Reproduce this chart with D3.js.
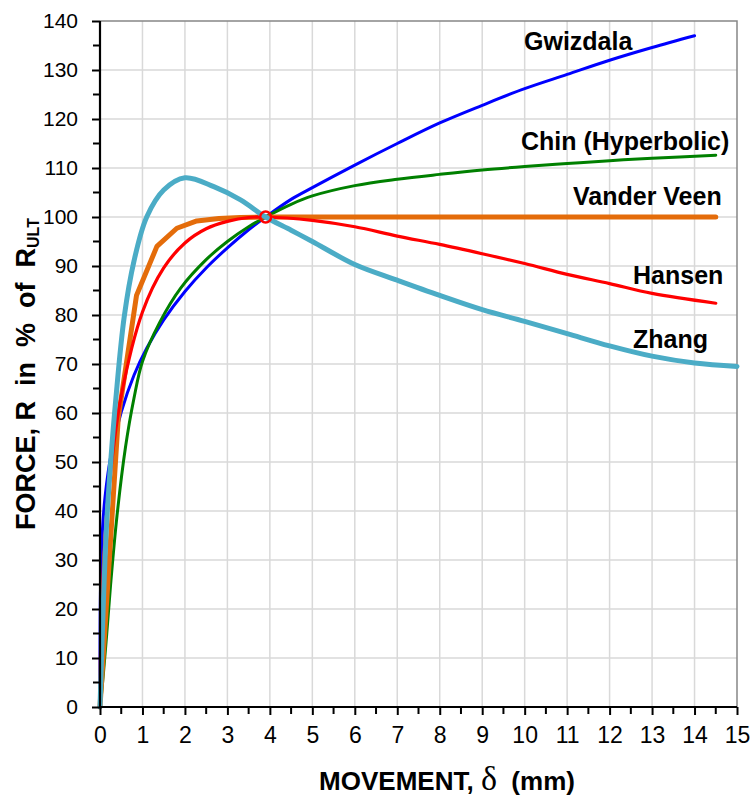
<!DOCTYPE html>
<html>
<head>
<meta charset="utf-8">
<script src="https://cdn.jsdelivr.net/npm/d3@7"></script>
<style>
  body { margin: 0; background: #fff; }
  svg { display: block; font-family: Arial, "Liberation Sans", sans-serif; }
  .grid line { stroke: #d9d9d9; stroke-width: 1.5; }
  .lbl { font-weight: bold; font-size: 25px; fill: #000; }
</style>
</head>
<body>
<svg width="755" height="800"></svg>
<script>
// movement (mm) and force (% of R_ult)
var gwizdalaX = [0, 0.01, 0.05, 0.12, 0.27, 0.5, 0.8, 1.1, 1.5, 2, 2.5, 3, 3.5, 3.9, 4.5, 5, 6, 7, 8, 9, 10, 11, 12, 13, 14];
var gwizdalaY = [0, 23, 35, 43, 52, 60.2, 67.7, 73.2, 79, 84.8, 89.6, 93.7, 97.4, 100, 103.6, 106, 110.6, 115, 119.2, 122.8, 126.2, 129.1, 132, 134.6, 137];

var chinX = [0, 0.04, 0.15, 0.25, 0.4, 0.6, 0.8, 1, 1.4, 1.9, 2.5, 3, 3.5, 3.9, 4.5, 5, 6, 7, 8, 9, 10, 11, 12, 13, 14.5];
var chinY = [0, 3, 14, 25, 39, 53, 63, 70.5, 78.4, 85.5, 91.3, 95, 98, 100, 102.6, 104.3, 106.4, 107.7, 108.7, 109.6, 110.3, 110.9, 111.5, 112, 112.6];

var vanderVeenX = [0, 0.43, 0.86, 1.34, 1.81, 2.28, 2.8, 3.3, 3.9, 14.5];
var vanderVeenY = [0, 59, 84, 94, 97.7, 99.2, 99.7, 99.9, 100, 100];

var hansenX = [0, 0.02, 0.1, 0.25, 0.5, 1, 1.5, 2, 2.5, 3, 3.5, 3.9, 5, 6, 7, 8, 9, 10, 11, 12, 13, 14.5];
var hansenY = [0, 14, 32, 48, 63.5, 80.6, 89.6, 94.7, 97.6, 99.1, 99.9, 100, 99.3, 98, 96.1, 94.4, 92.5, 90.5, 88.3, 86.4, 84.4, 82.4];

var zhangX = [0, 0.09, 0.16, 0.26, 0.37, 0.57, 0.8, 1.1, 1.5, 2, 2.68, 3.31, 3.9, 4.5, 5, 6, 7, 8, 9, 10, 11, 12, 13, 14, 15];
var zhangY = [0, 24, 38, 51, 62.6, 79.6, 91, 100, 105.5, 108, 106.2, 103.5, 100, 97.3, 95, 90.3, 87.1, 84, 81.1, 78.7, 76.2, 73.7, 71.6, 70.2, 69.5];

var seriesNames = ["Gwizdala", "Chin (Hyperbolic)", "Vander Veen", "Hansen", "Zhang"];
var seriesColors = ["#0000ff", "#008000", "#e46c0a", "#ff0000", "#4bacc6"];
var seriesWidths = [3, 3, 5, 3.2, 5];
var seriesX = [gwizdalaX, chinX, vanderVeenX, hansenX, zhangX];
var seriesY = [gwizdalaY, chinY, vanderVeenY, hansenY, zhangY];
var smoothSeries = [true, true, false, true, true];

var ultimatePoint = [3.9, 100];

var xTicks = d3.range(0, 16, 1);
var yTicks = d3.range(0, 141, 10);

var svg = d3.select("svg");
var plotLeft = 100, plotRight = 737, plotTop = 21, plotBottom = 707;

var x = d3.scaleLinear().domain([0, 15]).range([plotLeft, plotRight]);
var y = d3.scaleLinear().domain([0, 140]).range([plotBottom, plotTop]);

// gridlines
var grid = svg.append("g").attr("class", "grid");
grid.selectAll(".gx")
  .data(xTicks.filter(function(d) { return d > 0 && d < 15; }))
  .enter().append("line")
    .attr("x1", function(d) { return x(d); })
    .attr("x2", function(d) { return x(d); })
    .attr("y1", plotTop).attr("y2", plotBottom);
grid.selectAll(".gy")
  .data(yTicks.filter(function(d) { return d > 0 && d < 140; }))
  .enter().append("line")
    .attr("y1", function(d) { return y(d); })
    .attr("y2", function(d) { return y(d); })
    .attr("x1", plotLeft).attr("x2", plotRight);

// top and right frame
svg.append("path")
    .attr("d", "M" + plotLeft + "," + plotTop + "H" + plotRight + "V" + plotBottom)
    .attr("fill", "none")
    .attr("stroke", "#868686")
    .attr("stroke-width", 1.5);

// curves
var curves = svg.append("g");
seriesNames.forEach(function(name, i) {
  var pts = seriesX[i].map(function(v, j) { return [v, seriesY[i][j]]; });
  var line = d3.line()
      .x(function(d) { return x(d[0]); })
      .y(function(d) { return y(d[1]); })
      .curve(smoothSeries[i] ? d3.curveCatmullRom.alpha(0.5) : d3.curveLinear);
  curves.append("path")
      .datum(pts)
      .attr("d", line)
      .attr("fill", "none")
      .attr("stroke", seriesColors[i])
      .attr("stroke-width", seriesWidths[i])
      .attr("stroke-linejoin", "round")
      .attr("stroke-linecap", "round");
});

svg.append("circle")
    .attr("cx", x(ultimatePoint[0]))
    .attr("cy", y(ultimatePoint[1]))
    .attr("r", 5.5)
    .attr("fill", "none")
    .attr("stroke", "#ff0000")
    .attr("stroke-width", 2.5);

// axes
var xAxis = svg.append("g")
    .attr("transform", "translate(0," + plotBottom + ")")
    .call(d3.axisBottom(x).tickValues(xTicks).tickSize(8).tickPadding(12).tickFormat(d3.format("d")));
var yAxis = svg.append("g")
    .attr("transform", "translate(" + plotLeft + ",0)")
    .call(d3.axisLeft(y).tickValues(yTicks).tickSize(8).tickPadding(14).tickFormat(d3.format("d")));

// minor ticks
xAxis.selectAll(".minor")
  .data(d3.range(0.5, 15, 1))
  .enter().append("line")
    .attr("x1", function(d) { return x(d); })
    .attr("x2", function(d) { return x(d); })
    .attr("y1", 0).attr("y2", 7)
    .attr("stroke", "#000").attr("stroke-width", 2);
yAxis.selectAll(".minor")
  .data(d3.range(5, 140, 10))
  .enter().append("line")
    .attr("y1", function(d) { return y(d); })
    .attr("y2", function(d) { return y(d); })
    .attr("x1", 0).attr("x2", -7)
    .attr("stroke", "#000").attr("stroke-width", 2);

[xAxis, yAxis].forEach(function(a) {
  a.select(".domain").attr("stroke", "#000").attr("stroke-width", 2.2);
  a.selectAll(".tick line").attr("stroke", "#000").attr("stroke-width", 2);
  a.selectAll("text").attr("fill", "#000").attr("font-family", "Arial, 'Liberation Sans', sans-serif");
});
xAxis.selectAll("text").attr("font-size", "23px");
yAxis.selectAll("text").attr("font-size", "21px");
xAxis.select(".domain").attr("d", "M" + plotLeft + ",0H" + plotRight);
yAxis.select(".domain").attr("d", "M0," + plotBottom + "V" + plotTop);

// series labels
var labelPos = [[524, 50], [521, 150], [573, 205], [633, 284], [633, 348]];
seriesNames.forEach(function(name, i) {
  svg.append("text")
      .attr("class", "lbl")
      .attr("x", labelPos[i][0])
      .attr("y", labelPos[i][1])
      .text(name);
});

// x axis title
var xt = svg.append("text")
    .attr("x", 447).attr("y", 790)
    .attr("text-anchor", "middle")
    .style("white-space", "pre")
    .attr("font-weight", "bold");
xt.append("tspan").attr("font-size", "26px").text("MOVEMENT, ");
xt.append("tspan").attr("font-size", "34px")
    .attr("font-family", "'Liberation Serif', 'Times New Roman', serif")
    .attr("font-weight", "normal")
    .text("\u03b4");
xt.append("tspan").attr("font-size", "26px").text("  (mm)");

// y axis title
var yt = svg.append("text")
    .attr("transform", "translate(35,374) rotate(-90)")
    .attr("text-anchor", "middle")
    .style("white-space", "pre")
    .attr("font-weight", "bold");
yt.append("tspan").attr("font-size", "27px").text("FORCE, R  in  %  of  R");
yt.append("tspan").attr("font-size", "16px").attr("dy", 4).text("ULT");
</script>
</body>
</html>
